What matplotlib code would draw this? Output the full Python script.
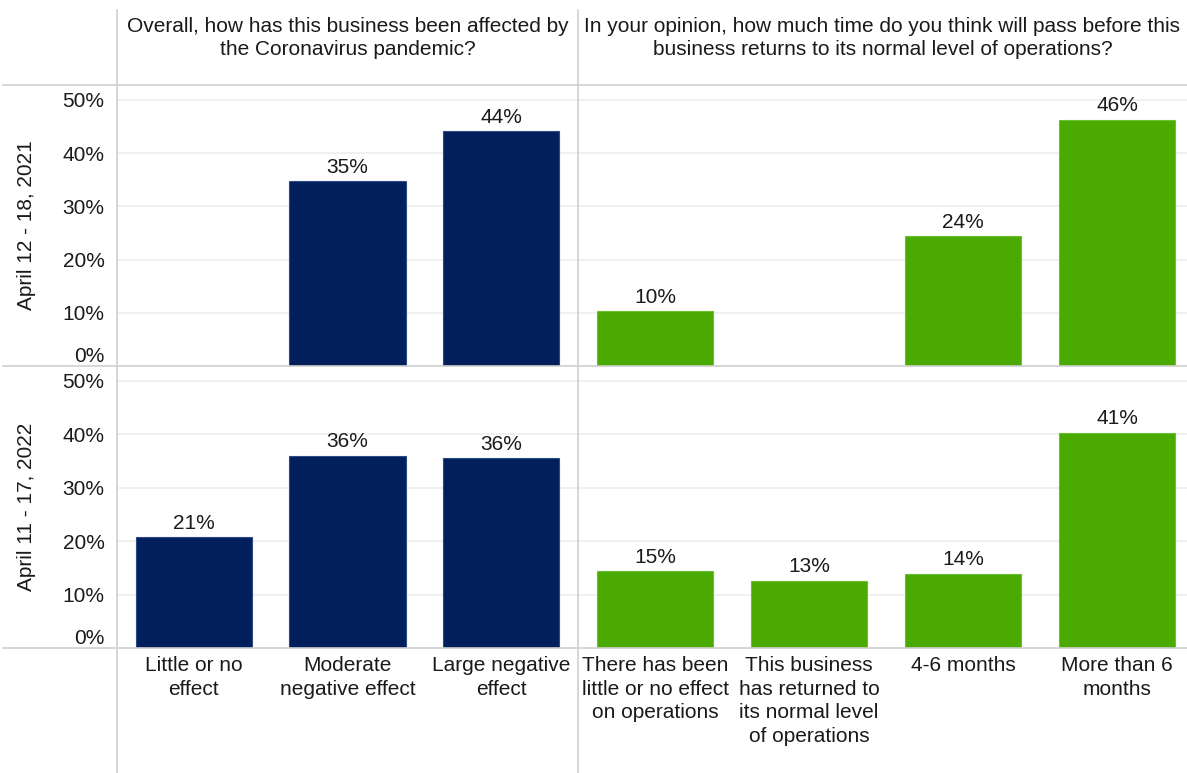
import numpy as np
import matplotlib
matplotlib.use("Agg")
import matplotlib.pyplot as plt
from matplotlib.lines import Line2D

plt.rcParams['font.family'] = ['Liberation Sans', 'DejaVu Sans']

# data
effect_cats = ['Little or no\neffect', 'Moderate\nnegative effect', 'Large negative\neffect']
return_cats = ['There has been\nlittle or no effect\non operations',
               'This business\nhas returned to\nits normal level\nof operations',
               '4-6 months', 'More than 6\nmonths']
periods = ['April 12 - 18, 2021', 'April 11 - 17, 2022']
effect_2021 = [np.nan, 34.7, 44.1]
effect_2022 = [20.8, 36.0, 35.5]
return_2021 = [10.3, np.nan, 24.4, 46.3]
return_2022 = [14.4, 12.6, 13.9, 40.3]
effect_labels_2021 = ['', '35%', '44%']
effect_labels_2022 = ['21%', '36%', '36%']
return_labels_2021 = ['10%', '', '24%', '46%']
return_labels_2022 = ['15%', '13%', '14%', '41%']
yticks = [0, 10, 20, 30, 40, 50]

titles = ['Overall, how has this business been affected by\nthe Coronavirus pandemic?',
          'In your opinion, how much time do you think will pass before this\nbusiness returns to its normal level of operations?']

navy = '#001F5B'
green = '#4AAA00'
grid_c = '#EDEDED'
line_c = '#CFCFCF'
txt_c = '#1a1a1a'
fs = 15

W, H = 1187, 773
fig = plt.figure(figsize=(W / 100, H / 100), dpi=100)

def fx(px):
    return px / W

def fy(px):
    return 1 - px / H

left_x, mid_x, right_end = 117, 578, 1194
rows = [(85, 366), (366, 648)]

panels = [
    [(effect_cats, effect_2021, effect_labels_2021, navy, '#2A4A8A'),
     (return_cats, return_2021, return_labels_2021, green, '#6CC030')],
    [(effect_cats, effect_2022, effect_labels_2022, navy, '#2A4A8A'),
     (return_cats, return_2022, return_labels_2022, green, '#6CC030')],
]

for r, (top, bot) in enumerate(rows):
    for c, (cats, vals, labs, col, ecol) in enumerate(panels[r]):
        x0 = left_x if c == 0 else mid_x
        x1 = mid_x if c == 0 else right_end
        ax = fig.add_axes([fx(x0), fy(bot), fx(x1 - x0), (bot - top) / H])
        xs = np.arange(len(cats))
        v = np.array(vals, dtype=float)
        mask = ~np.isnan(v)
        ax.bar(xs[mask], v[mask], width=0.755, color=col, edgecolor=ecol,
               linewidth=0.8, zorder=3)
        for xi, vi, li in zip(xs, v, labs):
            if not np.isnan(vi):
                ax.text(xi, vi + 0.8, li, ha='center', va='bottom',
                        fontsize=fs, color=txt_c, zorder=4)
        ax.set_xlim(-0.5, len(cats) - 0.5)
        ax.set_ylim(0, 52.8)
        ax.set_yticks(yticks)
        for y in yticks[1:]:
            ax.axhline(y, color=grid_c, linewidth=1.2, zorder=1)
        for s in ax.spines.values():
            s.set_visible(False)
        ax.tick_params(length=0)
        if c == 0:
            ax.set_yticklabels([f'{t}%' for t in yticks], fontsize=fs,
                               color=txt_c)
            ax.tick_params(axis='y', pad=9)
            ax.get_yticklabels()[0].set_va('bottom')
        else:
            ax.set_yticklabels([])
        ax.set_xticks(xs)
        if r == 1:
            ax.set_xticklabels(cats, fontsize=fs, color=txt_c,
                               linespacing=1.3, va='top')
            ax.tick_params(axis='x', pad=6)
        else:
            ax.set_xticklabels([])
    fig.text(fx(27), fy((top + bot) / 2), periods[r], rotation=90,
             ha='center', va='center', fontsize=fs, color=txt_c)

# column headers
fig.text(fx((left_x + mid_x) / 2), fy(38), titles[0], ha='center', va='center',
         fontsize=fs, color=txt_c, linespacing=1.3)
fig.text(fx((mid_x + W) / 2), fy(38), titles[1], ha='center', va='center',
         fontsize=fs, color=txt_c, linespacing=1.3)

# frame lines
for yy in [85, 366, 648]:
    fig.add_artist(Line2D([fx(3), 1], [fy(yy), fy(yy)], color=line_c, linewidth=1.2))
for xx in [left_x, mid_x]:
    fig.add_artist(Line2D([fx(xx), fx(xx)], [fy(10), 0], color=line_c, linewidth=1.2))

fig.savefig('out.png', dpi=100)
